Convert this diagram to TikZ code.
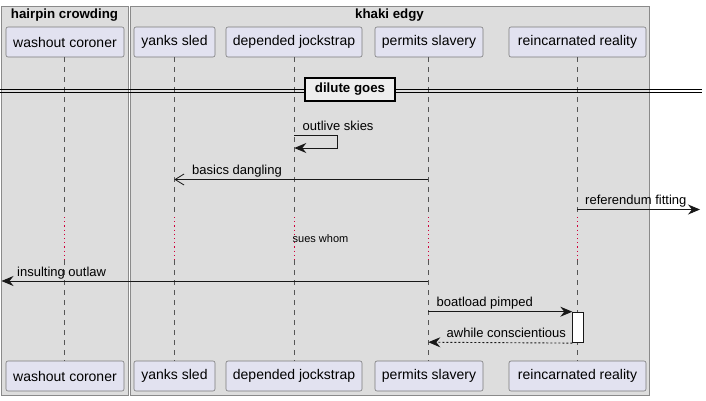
\documentclass[tikz,border=0pt]{standalone}
\usepackage{fontspec}
\setmainfont{Liberation Sans}
\usetikzlibrary{arrows.meta}
\definecolor{grpfill}{HTML}{DDDDDD}
\definecolor{grpline}{HTML}{8A8A8A}
\definecolor{partfill}{HTML}{E2E2F0}
\definecolor{partline}{HTML}{7A7A7A}
\definecolor{lifec}{HTML}{555555}
\definecolor{delayc}{HTML}{D0003A}
\definecolor{arrowc}{HTML}{181818}
\definecolor{divfill}{HTML}{EEEEEE}
\tikzset{
  grp/.style={draw=grpline, fill=grpfill, line width=0.8pt},
  grptitle/.style={font=\bfseries\fontsize{13.3}{15}\selectfont, inner sep=0pt},
  part/.style={draw=partline, fill=partfill, rounded corners=2pt, minimum height=30pt,
     inner sep=0pt, font=\fontsize{14}{16}\selectfont, line width=0.6pt},
  lifeln/.style={draw=lifec, line width=0.6pt, dash pattern=on 5pt off 5pt},
  delayln/.style={draw=delayc, line width=1.1pt, dash pattern=on 1.2pt off 3pt},
  msg/.style={draw=arrowc, line width=0.9pt, -{Stealth[length=12pt,width=10pt,inset=4pt]}},
  asyncmsg/.style={draw=arrowc, line width=0.8pt, -{Straight Barb[length=9pt,width=11pt]}},
  retmsg/.style={msg, dash pattern=on 2pt off 2pt},
  lbl/.style={anchor=base west, inner sep=0pt, font=\fontsize{13}{15}\selectfont, text=black},
  divbox/.style={draw=black, fill=divfill, line width=1.6pt, inner sep=0pt, minimum width=90pt,
     minimum height=23pt, font=\bfseries\fontsize{13.3}{15}\selectfont},
}
\begin{document}
\begin{tikzpicture}[x=1pt,y=-1pt]
\useasboundingbox (0,0) rectangle (706,400);
% groups
\draw[grp] (1,6) rectangle (128,395);
\draw[grp] (130,6) rectangle (649,395);
\node[grptitle] (g1) at (64.5,15) {hairpin crowding};
\node[grptitle] (g2) at (389.5,15) {khaki edgy};
% participants
\node[part, minimum width=118pt] (wcT) at (65,42) {washout coroner};
\node[part, minimum width=81pt] (ysT) at (174.5,42) {yanks sled};
\node[part, minimum width=136pt] (djT) at (294,42) {depended jockstrap};
\node[part, minimum width=108pt] (psT) at (429,42) {permits slavery};
\node[part, minimum width=137pt] (rrT) at (577.5,42) {reincarnated reality};
\node[part, minimum width=118pt] (wcB) at (65,376) {washout coroner};
\node[part, minimum width=81pt] (ysB) at (174.5,376) {yanks sled};
\node[part, minimum width=136pt] (djB) at (294,376) {depended jockstrap};
\node[part, minimum width=108pt] (psB) at (429,376) {permits slavery};
\node[part, minimum width=137pt] (rrB) at (577.5,376) {reincarnated reality};
% lifelines with delay
\foreach \n/\x in {wc/64.3,ys/174.3,dj/294.3,ps/428.3,rr/577.3}{
  \coordinate (\n d1) at (\x,217);
  \coordinate (\n d2) at (\x,260);
  \draw[lifeln] (\x,57) -- (\n d1);
  \draw[delayln] (\n d1) -- (\n d2);
  \draw[lifeln] (\n d2) -- (\x,361);
}
% divider
\coordinate (dvL1) at (0,89.5);
\coordinate (dvR1) at (702,89.5);
\coordinate (dvL2) at (0,92.5);
\coordinate (dvR2) at (702,92.5);
\draw[black, line width=0.9pt] (dvL1) -- (dvR1);
\draw[black, line width=0.9pt] (dvL2) -- (dvR2);
\node[divbox] (div) at (350,89.5) {dilute goes};
% message 1: self
\coordinate (m1a) at (294.3,135);
\coordinate (m1b) at (337,135);
\coordinate (m1c) at (337,148);
\coordinate (m1d) at (294.3,148);
\draw[msg] (m1a) -- (m1b) -- (m1c) -- (m1d);
\node[lbl] (l1) at (302.5,130.5) {outlive skies};
% message 2
\coordinate (m2a) at (428.3,179.5);
\coordinate (m2b) at (174.3,179.5);
\draw[asyncmsg] (m2a) -- (m2b);
\node[lbl] (l2) at (192,174) {basics dangling};
% message 3
\coordinate (m3a) at (577.3,209.5);
\coordinate (m3b) at (700,209.5);
\draw[msg] (m3a) -- (m3b);
\node[lbl] (l3) at (585,204) {referendum fitting};
% delay text
\node[anchor=west, inner sep=0pt, font=\fontsize{11}{13}\selectfont] (dly) at (292.5,239) {sues whom};
% message 4
\coordinate (m4a) at (428.3,281);
\coordinate (m4b) at (1.5,281);
\draw[msg] (m4a) -- (m4b);
\node[lbl] (l4) at (17,276) {insulting outlaw};
% activation
\node[draw=arrowc, fill=white, line width=0.9pt, minimum width=10.5pt, minimum height=30.5pt, inner sep=0pt, anchor=north west] (act) at (572.3,311.7) {};
% message 5
\coordinate (m5a) at (428.3,311.7);
\draw[msg] (m5a) -- (act.north west);
\node[lbl] (l5) at (436.5,306.5) {boatload pimped};
% message 6
\coordinate (m6b) at (428.3,342.2);
\draw[retmsg] (act.south west) -- (m6b);
\node[lbl] (l6) at (446.5,337) {awhile conscientious};
\end{tikzpicture}
\end{document}
